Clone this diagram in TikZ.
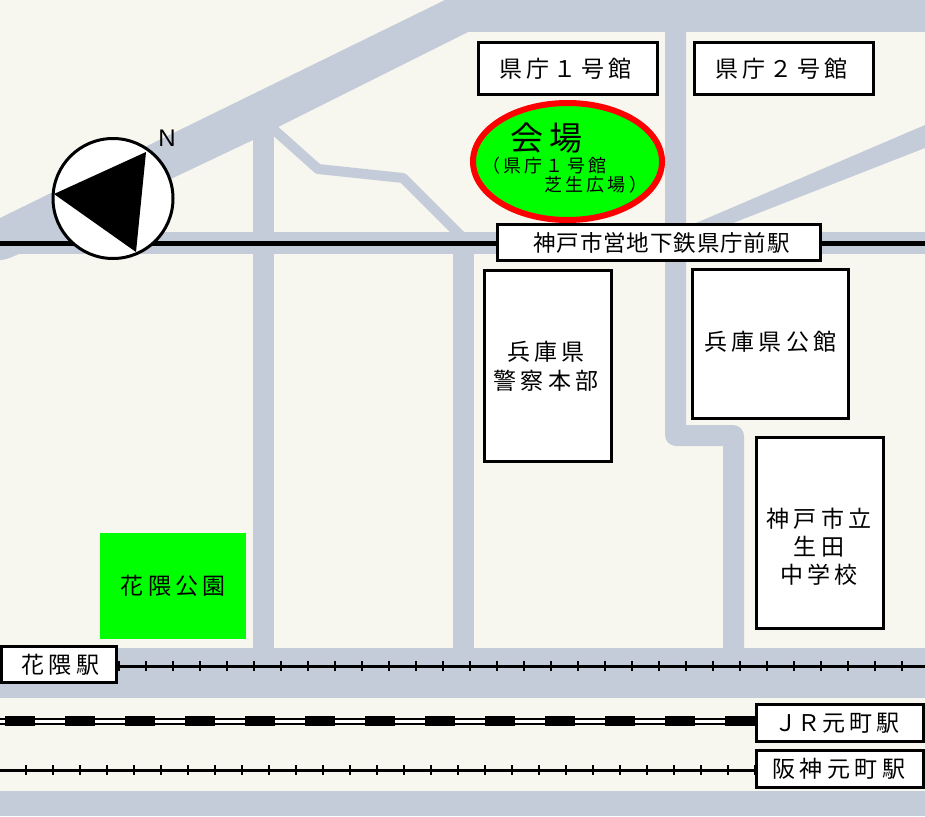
\documentclass[tikz,border=0pt]{standalone}
\usepackage{fontspec}
\usetikzlibrary{shapes.geometric}
\setmainfont{Noto Sans CJK JP}
\newfontfamily\jpa[LetterSpace=19.5]{Noto Sans CJK JP}
\newfontfamily\jpb[LetterSpace=4]{Noto Sans CJK JP}
\newfontfamily\jpc[LetterSpace=18]{Noto Sans CJK JP}
\newfontfamily\jpd[LetterSpace=20]{Noto Sans CJK JP}
\newfontfamily\latinN{Liberation Sans}
\definecolor{bgc}{HTML}{F7F7EF}
\definecolor{roadc}{HTML}{C4CCDA}
\definecolor{parkc}{HTML}{00FF00}
\tikzset{
  road/.style={draw=none,fill=roadc},
  bldg/.style={draw=black,fill=white,line width=3pt,inner sep=0pt,outer sep=0pt,align=center,font=\fontsize{23}{29}\jpa},
  rail/.style={draw=black,line width=3pt},
  tick/.style={draw=black,line width=2pt},
}
\begin{document}
\begin{tikzpicture}[x=1pt,y=-1pt]
\useasboundingbox (0,0) rectangle (925,816);
\fill[bgc] (0,0) rectangle (925,816);
% roads
\fill[road] (0,218) -- (445,0) -- (925,0) -- (925,32) -- (468,32) -- (278,127) -- (253,140) -- (175,177) -- (20,253.5) .. controls (10,258) and (5,260) .. (0,260) -- cycle;
\fill[road] (0,232) rectangle (925,253.5);
\fill[road] (253,130) rectangle (274,660);
\fill[road] (453,232) rectangle (474,660);
\fill[road] (665,20) -- (686,20) -- (686,425) -- (733,425) arc[start angle=-90,end angle=0,radius=11] -- (744,660) -- (723,660) -- (723,446) -- (676,446) arc[start angle=90,end angle=180,radius=11] -- cycle;
\fill[road] (925,125) -- (925,148) -- (710,232) -- (675,232) -- cycle;
\draw[roadc,line width=10pt,line join=round] (272,128) -- (318,169) -- (403,178) -- (464,239);
\fill[road] (0,648) rectangle (925,698);
\fill[road] (0,791) rectangle (925,816);
% subway line
\draw[black,line width=5pt] (0,243) -- (925,243);
% rail lines
\coordinate (hkL) at (117,666);
\coordinate (hkR) at (925,666);
\coordinate (jrL) at (0,721.5);
\coordinate (hsL) at (0,770);
\draw[rail] (hkL) -- (hkR);
\foreach \x in {0,...,29} \draw[tick] ({119+27*\x},661) -- ({119+27*\x},671);
\draw[black,line width=7pt] (jrL) -- (755,721.5);
\draw[white,line width=3.4pt] (jrL) -- (755,721.5);
\foreach \x in {0,...,12} \fill[black] ({5+60*\x},716) rectangle ({35+60*\x},726);
\draw[rail] (hsL) -- (755,770);
\foreach \x in {0,...,27} \draw[tick] ({26+27*\x},765) -- ({26+27*\x},775);
% buildings
\node[bldg,minimum width=179pt,minimum height=52pt] (ken1) at (568,68.5) {\hspace*{-5pt}県庁１号館};
\node[bldg,minimum width=179pt,minimum height=52pt] (ken2) at (784,68.5) {\hspace*{-5pt}県庁２号館};
\node[bldg,minimum width=127pt,minimum height=191pt] (police) at (548,366) {\hspace*{-4pt}兵庫県\\\hspace*{-4pt}警察本部};
\node[bldg,minimum width=156pt,minimum height=149pt] (kokan) at (770.5,344) {\raisebox{2pt}[\height][\depth]{兵庫県公館}};
\node[bldg,minimum width=127pt,minimum height=191pt,font=\fontsize{23}{28}\jpa] (school) at (820,532.5) {\rule{0pt}{20pt}\\\hspace*{-2pt}神戸市立\\\hspace*{-2pt}生田\\\hspace*{-2pt}中学校};
\node[fill=parkc,inner sep=0pt,minimum width=146pt,minimum height=106pt,font=\fontsize{23}{29}\jpa] (park) at (173,586) {\hspace*{0.5pt}花隈公園};
\node[bldg,minimum width=323pt,minimum height=36pt,font=\fontsize{22.5}{29}\jpb] (subway) at (659,242.5) {\hspace*{5pt}神戸市営地下鉄県庁前駅};
\node[bldg,minimum width=115pt,minimum height=36pt] (hk) at (59,664.5) {\hspace*{2.5pt}花隈駅};
\node[bldg,minimum width=167pt,minimum height=37pt] (jr) at (840,723) {\hspace*{-5.5pt}\makebox[22.5pt][l]{Ｊ}\makebox[25pt][l]{Ｒ}元町駅};
\node[bldg,minimum width=167pt,minimum height=37pt] (hs) at (840,769) {\hspace*{-2.5pt}阪神元町駅};
% venue
\node[ellipse,draw=red,fill=parkc,line width=6pt,minimum width=189pt,minimum height=117pt,inner sep=0pt,outer sep=0pt] (venue) at (567.5,161.5) {};
\node[font=\fontsize{33}{36}\jpd,inner sep=0pt] (venueT) at (546.5,138) {会場};
\node[font=\fontsize{18}{20}\jpc,anchor=west,inner sep=0pt] (venueA) at (482,165.5) {（県庁１号館};
\node[font=\fontsize{18}{20}\jpc,anchor=west,inner sep=0pt] (venueB) at (544,185) {芝生広場）};
% compass
\node[circle,draw=black,fill=white,line width=3pt,minimum size=120pt,inner sep=0pt,outer sep=0pt] (compass) at (113,198.5) {};
\fill[black] (146,152) -- (54,194) -- (136,252) -- cycle;
\node[font=\fontsize{24}{24}\latinN,inner sep=0pt] (north) at (167,138) {N};
\end{tikzpicture}
\end{document}
